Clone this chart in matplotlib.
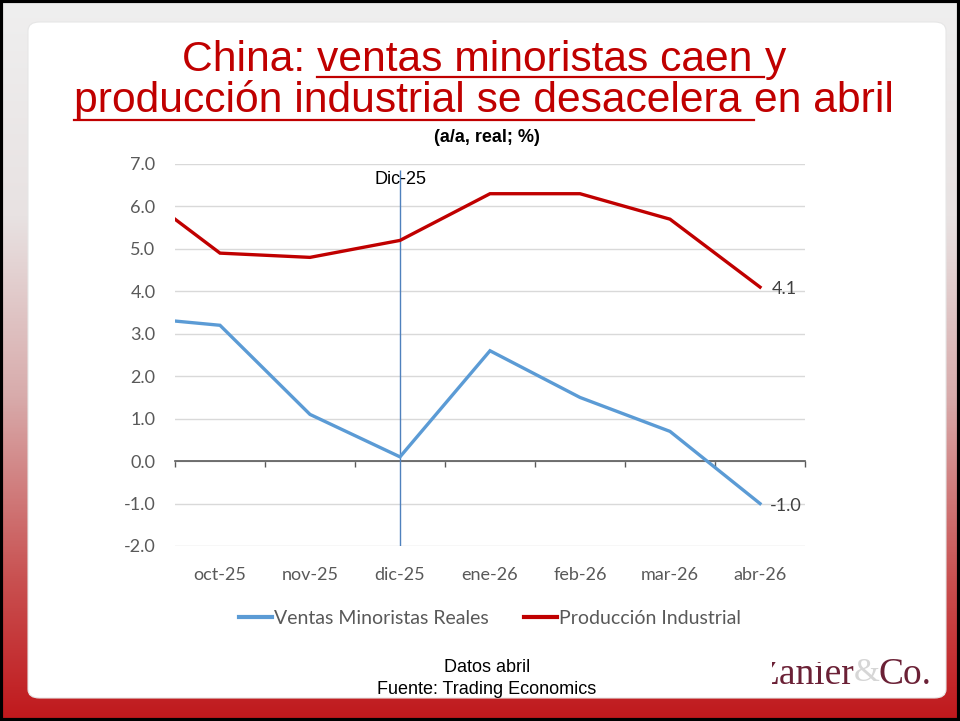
import numpy as np
import matplotlib.pyplot as plt
from matplotlib.patches import FancyBboxPatch, Rectangle
from matplotlib.lines import Line2D
from matplotlib.colors import LinearSegmentedColormap
from matplotlib.transforms import Bbox
import matplotlib.transforms as mtransforms

# datos (sep-25 queda fuera del eje, solo se ve el tramo recortado)
meses = ["sep-25", "oct-25", "nov-25", "dic-25", "ene-26", "feb-26", "mar-26", "abr-26"]
ventas = [3.4, 3.2, 1.1, 0.1, 2.6, 1.5, 0.7, -1.0]
produccion = [6.5, 4.9, 4.8, 5.2, 6.3, 6.3, 5.7, 4.1]
yticks = [-2, -1, 0, 1, 2, 3, 4, 5, 6, 7]

ROJO = "#c00000"
AZUL = "#5b9bd5"
GRIS = "#595959"
ARIAL = ["Liberation Sans", "DejaVu Sans"]
CAL = ["Lato", "DejaVu Sans"]
SERIF = ["Liberation Serif", "DejaVu Serif"]

W, H = 960, 721
fig = plt.figure(figsize=(W / 100, H / 100), dpi=100)

# fondo con degradado gris -> rojo
bg = fig.add_axes([0, 0, 1, 1], zorder=-10)
cmap = LinearSegmentedColormap.from_list(
    "fondo", [(0, "#efefef"), (0.3, "#e8e2e2"), (0.55, "#d8abab"), (0.8, "#c95252"), (1, "#c0181c")])
bg.imshow(np.linspace(0, 1, 256).reshape(-1, 1), aspect="auto", cmap=cmap, extent=[0, 1, 0, 1])
bg.set_xlim(0, 1)
bg.set_ylim(0, 1)
bg.axis("off")
fig.add_artist(Rectangle((0.001, 0.001), 0.998, 0.998, transform=fig.transFigure,
                         fill=False, edgecolor="black", lw=3, zorder=5))

# tarjeta blanca
card = FancyBboxPatch((28 / W, 1 - 698 / H), (946 - 28) / W, (698 - 22) / H,
                      boxstyle="round,pad=0,rounding_size=0.012", transform=fig.transFigure,
                      facecolor="white", edgecolor="#e6e6e6", lw=0.8, zorder=-5)
fig.add_artist(card)

r = fig.canvas.get_renderer()


def linea_titulo(partes, y_base, y_sub, size):
    textos = []
    for s, sub in partes:
        t = fig.text(0, 1 - y_base / H, s, fontsize=size, color=ROJO, family=ARIAL,
                     va="baseline", ha="left")
        textos.append(t)
    anchos = [t.get_window_extent(r).width for t in textos]
    x0 = 484 - sum(anchos) / 2
    for t, w, (s, sub) in zip(textos, anchos, partes):
        t.set_x(x0 / W)
        if sub:
            fig.add_artist(Line2D([x0 / W, (x0 + w) / W], [1 - y_sub / H] * 2,
                                  transform=fig.transFigure, color=ROJO, lw=1.6))
        x0 += w


linea_titulo([("China: ", False), ("ventas minoristas caen ", True), ("y", False)], 71, 77, 30.7)
linea_titulo([("producción industrial se desacelera ", True), ("en abril", False)], 112, 120, 30.7)
fig.text(487 / W, 1 - 137 / H, "(a/a, real; %)", fontsize=13, fontweight="bold", family=ARIAL,
         ha="center", va="center", color="black")

# grafico
ax = fig.add_axes([175 / W, 1 - 546 / H, 630 / W, 382 / H])
x = np.arange(len(meses)) - 1
ax.plot(x, produccion, color=ROJO, lw=2.4, solid_joinstyle="miter", zorder=4)
ax.plot(x, ventas, color=AZUL, lw=2.4, solid_joinstyle="miter", zorder=4)
ax.set_xlim(-0.5, 6.5)
ax.set_ylim(-2, 7)

ax.set_yticks(yticks)
ax.set_yticklabels([f"{v:.1f}" for v in yticks], fontsize=13, color=GRIS, family=CAL)
ax.yaxis.grid(True, color="#d9d9d9", lw=1)
ax.set_axisbelow(True)
ax.tick_params(axis="y", length=0, pad=14)

for s in ["top", "right", "left"]:
    ax.spines[s].set_visible(False)
ax.spines["bottom"].set_position(("data", 0))
ax.spines["bottom"].set_color(GRIS)
ax.spines["bottom"].set_linewidth(1.2)
ax.set_xticks(np.arange(-0.5, 7, 1))
ax.set_xticklabels([])
ax.tick_params(axis="x", length=4, width=1, color=GRIS, direction="out")

trans = mtransforms.blended_transform_factory(ax.transData, ax.transAxes)
for i, m in enumerate(meses[1:]):
    ax.text(i, -29 / 382, m, transform=trans, ha="center", va="center", fontsize=13,
            color=GRIS, family=CAL)

# linea vertical dic-25
ax.vlines(2, -2, 6.86, color="#4f81bd", lw=1, zorder=3)
ax.text(2, 6.63, "Dic-25", ha="center", va="center", fontsize=13, family=ARIAL, color="black")

# etiquetas del ultimo dato
ax.annotate(f"{produccion[-1]:.1f}", (x[-1], produccion[-1]), xytext=(12, -2), textcoords="offset pixels",
            ha="left", va="center", fontsize=13, color="#404040", family=CAL)
ax.annotate(f"{ventas[-1]:.1f}", (x[-1], ventas[-1]), xytext=(10, -2), textcoords="offset pixels",
            ha="left", va="center", fontsize=13, color="#404040", family=CAL)

# leyenda
handles = [Line2D([], [], color=AZUL, lw=3), Line2D([], [], color=ROJO, lw=3)]
fig.legend(handles, ["Ventas Minoristas Reales", "Producción Industrial"], loc="center",
           bbox_to_anchor=(490 / W, 1 - 618 / H), ncol=2, frameon=False, handlelength=1.7,
           handletextpad=0.1, columnspacing=1.8, prop={"family": CAL, "size": 14},
           labelcolor=GRIS)

# pie
fig.text(487 / W, 1 - 668 / H, "Datos abril", ha="center", va="center", fontsize=13,
         family=ARIAL)
fig.text(487 / W, 1 - 690 / H, "Fuente: Trading Economics", ha="center", va="center",
         fontsize=13, family=ARIAL)

# logo (recortado arriba y a la izquierda como en la imagen original)
logo = fig.text(854 / W, 1 - 684 / H, "Zanier", ha="right", va="baseline", fontsize=27,
                color="#6b2136", family=SERIF)
logo.set_clip_box(Bbox.from_extents(772, H - 697, 860, H - 662))
logo.set_clip_on(True)
fig.text(867 / W, 1 - 673 / H, "&", ha="center", va="center", fontsize=24, color="#d6d6d6",
         family=SERIF)
fig.text(879 / W, 1 - 684 / H, "Co.", ha="left", va="baseline", fontsize=27, color="#6b2136",
         family=SERIF)

fig.savefig("out.png", dpi=100)
